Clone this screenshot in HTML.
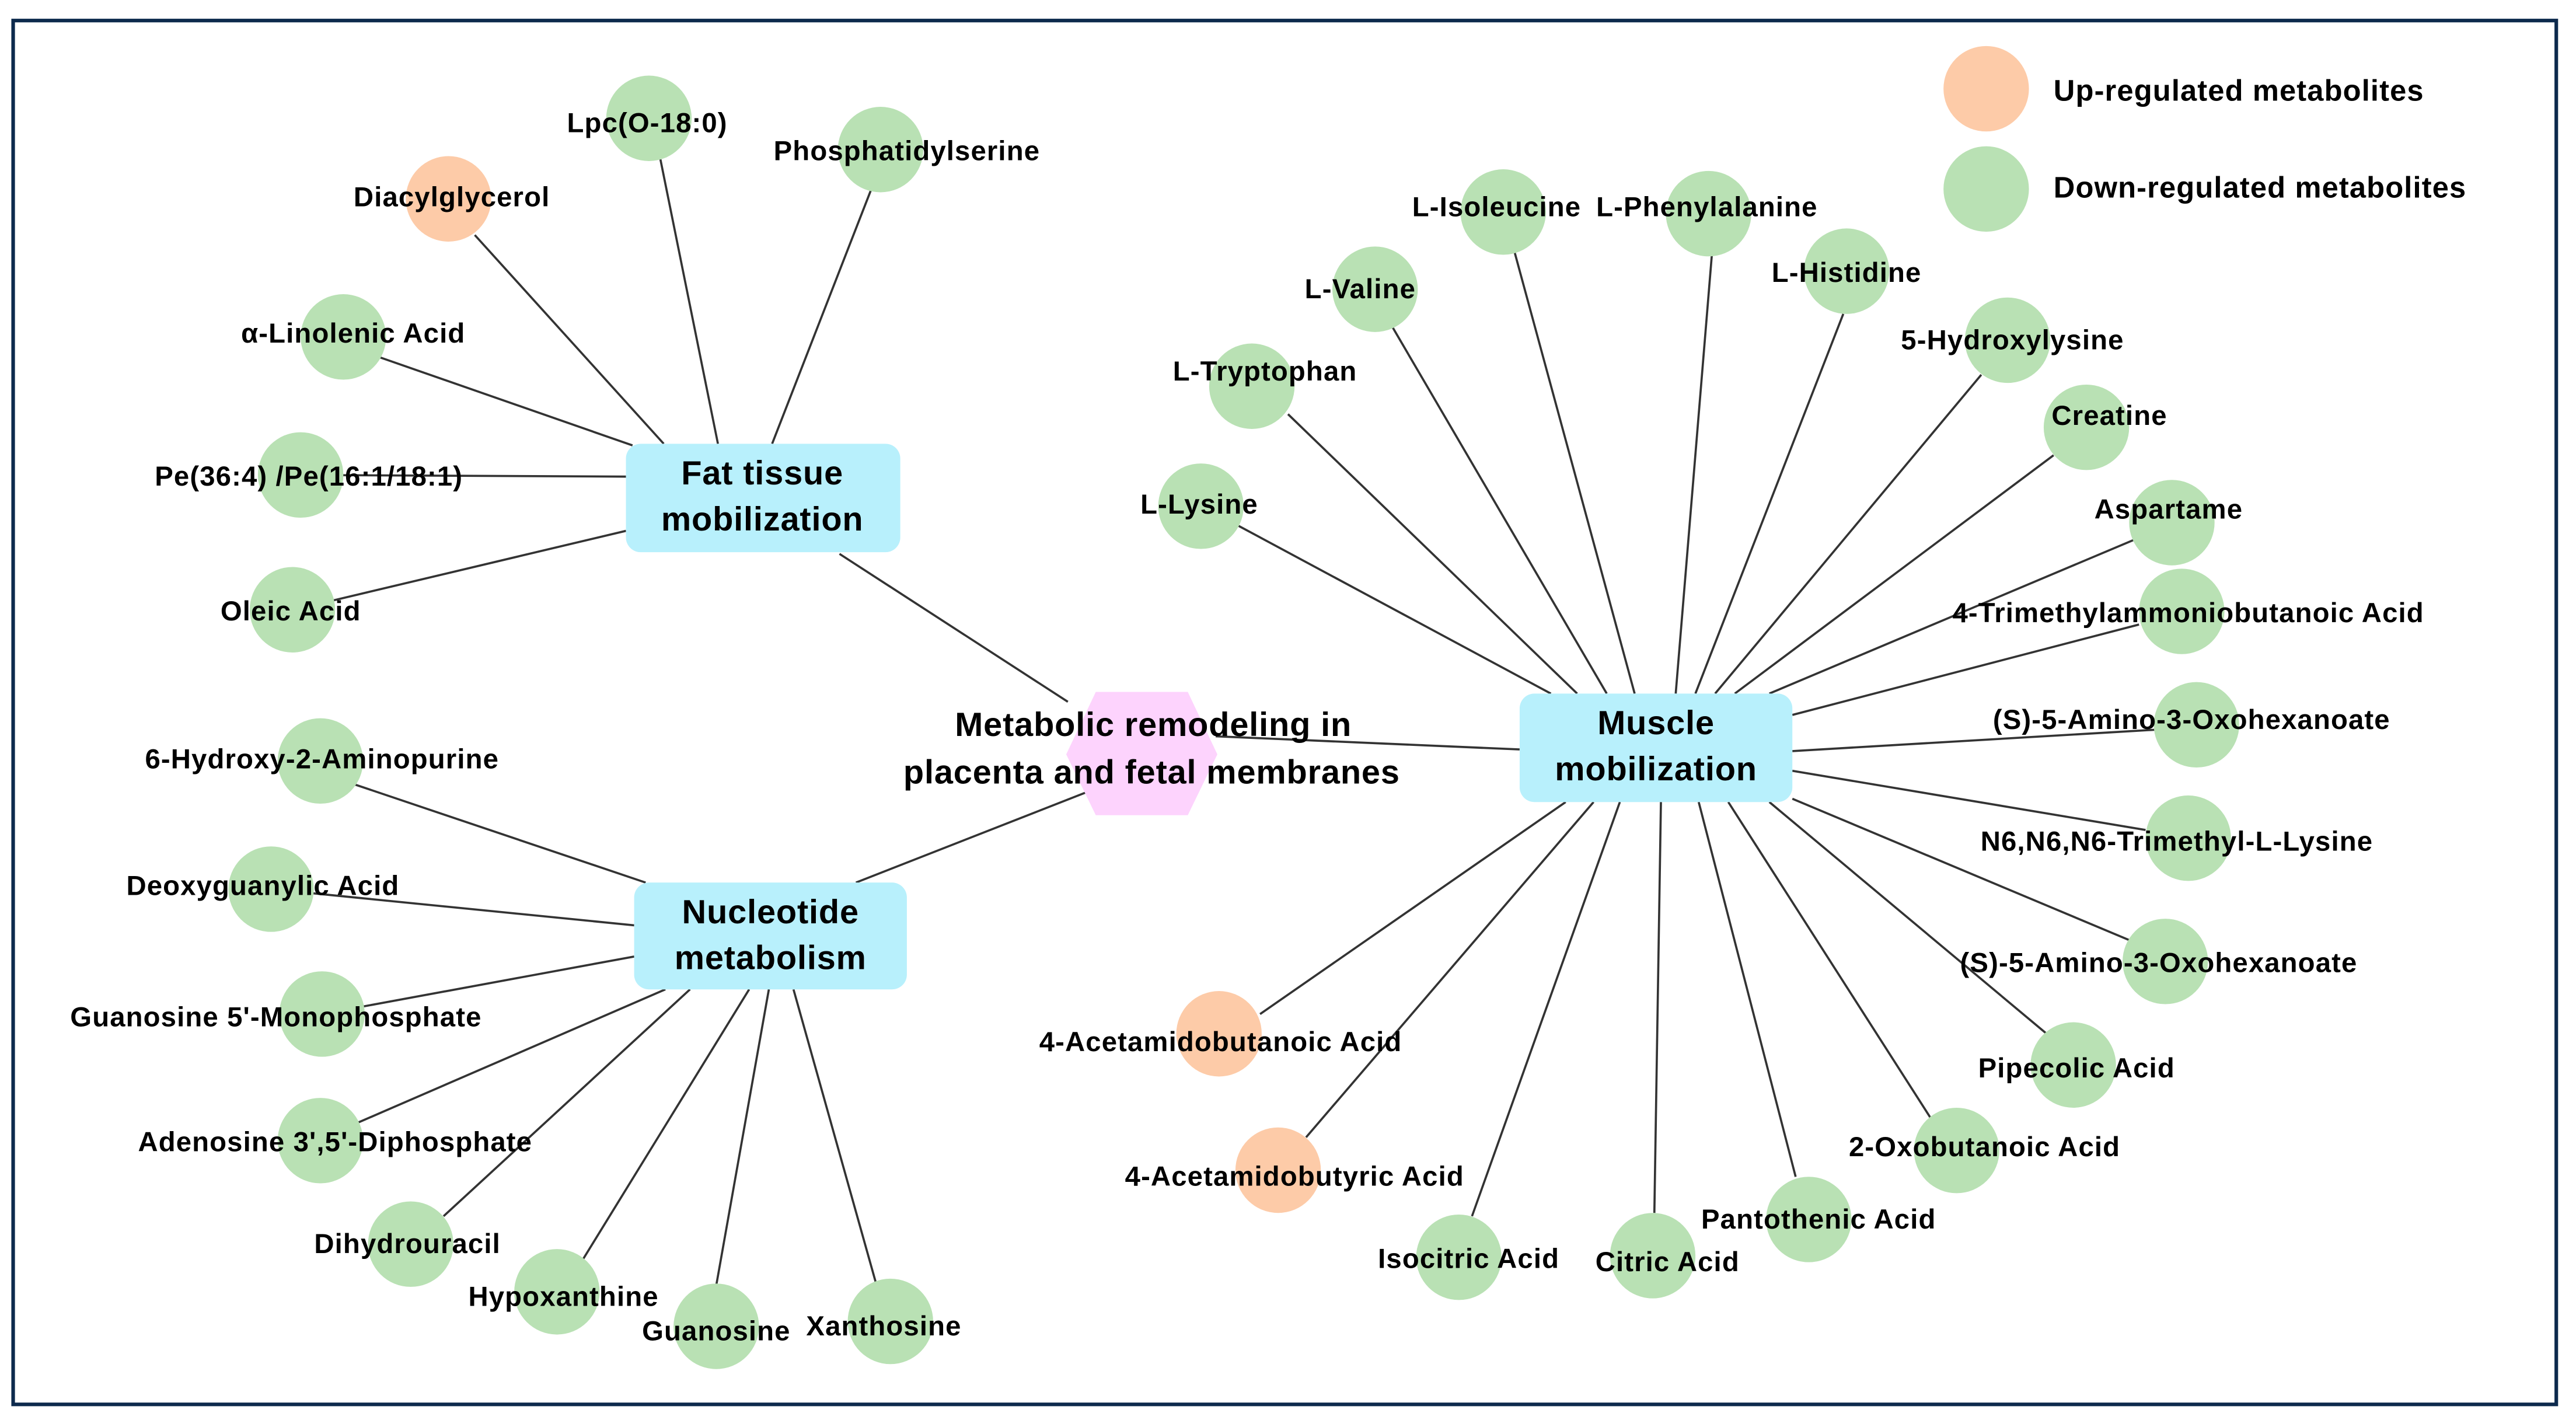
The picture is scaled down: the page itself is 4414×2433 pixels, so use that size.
<!DOCTYPE html>
<html><head><meta charset="utf-8"><style>
html,body{margin:0;padding:0;background:#fff;}
svg{display:block;}
text{font-family:"Liberation Sans",sans-serif;fill:#000;}
.l{font-size:16.8px;font-weight:bold;letter-spacing:0.4px;text-anchor:middle;dominant-baseline:central;}
.b{font-size:20.5px;font-weight:bold;letter-spacing:0.3px;text-anchor:middle;dominant-baseline:central;}
</style></head><body>
<svg width="4414" height="2433" viewBox="0 0 1568 864" preserveAspectRatio="none" xmlns="http://www.w3.org/2000/svg">
<rect x="0" y="0" width="1568" height="864" fill="#fff"/>
<rect x="8" y="12.5" width="1548" height="842" fill="none" stroke="#0d2a4d" stroke-width="2.2"/>
<g stroke="#333" stroke-width="1.3" fill="none">
<line x1="650" y1="427" x2="511" y2="337"/>
<line x1="521" y1="537" x2="664" y2="481"/>
<line x1="740" y1="448" x2="925" y2="456"/>
<line x1="402" y1="97" x2="437" y2="270"/>
<line x1="530" y1="116" x2="470" y2="270"/>
<line x1="289" y1="143" x2="404" y2="270"/>
<line x1="230" y1="217" x2="385" y2="271"/>
<line x1="183" y1="289" x2="381" y2="290"/>
<line x1="200" y1="366" x2="381" y2="323"/>
<line x1="215" y1="477" x2="393" y2="537"/>
<line x1="165" y1="541" x2="386" y2="563"/>
<line x1="196" y1="617" x2="386" y2="582"/>
<line x1="218" y1="683" x2="405" y2="602"/>
<line x1="270" y1="740" x2="420" y2="602"/>
<line x1="355" y1="766" x2="456" y2="602"/>
<line x1="436" y1="782" x2="468" y2="602"/>
<line x1="533" y1="780" x2="483" y2="602"/>
<line x1="921" y1="150" x2="995" y2="422"/>
<line x1="1042" y1="155" x2="1020" y2="422"/>
<line x1="847" y1="198" x2="978" y2="422"/>
<line x1="1122" y1="191" x2="1032" y2="422"/>
<line x1="784" y1="252" x2="960" y2="422"/>
<line x1="1206" y1="228" x2="1044" y2="422"/>
<line x1="1250" y1="277" x2="1056" y2="422"/>
<line x1="754" y1="320" x2="944" y2="422"/>
<line x1="1300" y1="328" x2="1077" y2="422"/>
<line x1="1302" y1="380" x2="1091" y2="435"/>
<line x1="1312" y1="444" x2="1091" y2="457"/>
<line x1="1306" y1="505" x2="1091" y2="469"/>
<line x1="1296" y1="572" x2="1091" y2="486"/>
<line x1="1247" y1="630" x2="1077" y2="488"/>
<line x1="1175" y1="680" x2="1052" y2="488"/>
<line x1="1093" y1="716" x2="1034" y2="488"/>
<line x1="1007" y1="738" x2="1011" y2="488"/>
<line x1="896" y1="740" x2="986" y2="488"/>
<line x1="795" y1="692" x2="970" y2="488"/>
<line x1="767" y1="617" x2="953" y2="488"/>
</g>
<g fill="#b9e1b4">
<circle cx="395" cy="72" r="26"/><circle cx="536" cy="91" r="26"/>
<circle cx="209" cy="205" r="26"/><circle cx="183" cy="289" r="26"/><circle cx="178" cy="371" r="26"/>
<circle cx="195" cy="463" r="26"/><circle cx="165" cy="541" r="26"/><circle cx="196" cy="617" r="26"/>
<circle cx="195" cy="694" r="26"/><circle cx="250" cy="757" r="26"/><circle cx="339" cy="786" r="26"/>
<circle cx="436" cy="807" r="26"/><circle cx="542" cy="804" r="26"/>
<circle cx="915" cy="129" r="26"/><circle cx="1040" cy="130" r="26"/><circle cx="837" cy="176" r="26"/>
<circle cx="1124" cy="165" r="26"/><circle cx="762" cy="235" r="26"/><circle cx="1222" cy="207" r="26"/>
<circle cx="1270" cy="260" r="26"/><circle cx="731" cy="308" r="26"/><circle cx="1322" cy="318" r="26"/>
<circle cx="1328" cy="372" r="26"/><circle cx="1337" cy="441" r="26"/><circle cx="1332" cy="510" r="26"/>
<circle cx="1318" cy="585" r="26"/><circle cx="1262" cy="648" r="26"/><circle cx="1191" cy="700" r="26"/>
<circle cx="1101" cy="742" r="26"/><circle cx="1006" cy="764" r="26"/><circle cx="888" cy="765" r="26"/>
<circle cx="1209" cy="115" r="26"/>
</g>
<g fill="#fdcba8">
<circle cx="273" cy="121" r="26"/><circle cx="778" cy="712" r="26"/><circle cx="742" cy="629" r="26"/>
<circle cx="1209" cy="54" r="26"/>
</g>
<polygon points="667,421 723,421 741,459 723,496 667,496 649,459" fill="#fdd3fd"/>
<rect x="381" y="270" width="167" height="66" rx="9" fill="#b8f0fc"/>
<rect x="386" y="537" width="166" height="65" rx="9" fill="#b8f0fc"/>
<rect x="925" y="422" width="166" height="66" rx="9" fill="#b8f0fc"/>
<text class="b" x="464" y="288">Fat tissue</text><text class="b" x="464" y="316">mobilization</text>
<text class="b" x="469" y="555">Nucleotide</text><text class="b" x="469" y="583">metabolism</text>
<text class="b" x="1008" y="440">Muscle</text><text class="b" x="1008" y="468">mobilization</text>
<text class="b" x="702" y="441">Metabolic remodeling in</text>
<text class="b" x="701" y="470">placenta and  fetal membranes</text>
<text class="l" x="394" y="75">Lpc(O-18:0)</text>
<text class="l" x="552" y="92">Phosphatidylserine</text>
<text class="l" x="275" y="120">Diacylglycerol</text>
<text class="l" x="215" y="203">α-Linolenic Acid</text>
<text class="l" x="188" y="290">Pe(36:4) /Pe(16:1/18:1)</text>
<text class="l" x="177" y="372">Oleic Acid</text>
<text class="l" x="196" y="462">6-Hydroxy-2-Aminopurine</text>
<text class="l" x="160" y="539">Deoxyguanylic Acid</text>
<text class="l" x="168" y="619">Guanosine 5'-Monophosphate</text>
<text class="l" x="204" y="695">Adenosine 3',5'-Diphosphate</text>
<text class="l" x="248" y="757">Dihydrouracil</text>
<text class="l" x="343" y="789">Hypoxanthine</text>
<text class="l" x="436" y="810">Guanosine</text>
<text class="l" x="538" y="807">Xanthosine</text>
<text class="l" x="911" y="126">L-Isoleucine</text>
<text class="l" x="1039" y="126">L-Phenylalanine</text>
<text class="l" x="828" y="176">L-Valine</text>
<text class="l" x="1124" y="166">L-Histidine</text>
<text class="l" x="770" y="226">L-Tryptophan</text>
<text class="l" x="1225" y="207">5-Hydroxylysine</text>
<text class="l" x="1284" y="253">Creatine</text>
<text class="l" x="730" y="307">L-Lysine</text>
<text class="l" x="1320" y="310">Aspartame</text>
<text class="l" x="1332" y="373">4-Trimethylammoniobutanoic Acid</text>
<text class="l" x="1334" y="438">(S)-5-Amino-3-Oxohexanoate</text>
<text class="l" x="1325" y="512">N6,N6,N6-Trimethyl-L-Lysine</text>
<text class="l" x="1314" y="586">(S)-5-Amino-3-Oxohexanoate</text>
<text class="l" x="1264" y="650">Pipecolic Acid</text>
<text class="l" x="1208" y="698">2-Oxobutanoic Acid</text>
<text class="l" x="1107" y="742">Pantothenic Acid</text>
<text class="l" x="1015" y="768">Citric Acid</text>
<text class="l" x="894" y="766">Isocitric Acid</text>
<text class="l" x="788" y="716">4-Acetamidobutyric Acid</text>
<text class="l" x="743" y="634">4-Acetamidobutanoic Acid</text>
<text x="1250" y="55" style="font-size:18px;font-weight:bold;letter-spacing:0.4px;dominant-baseline:central;">Up-regulated metabolites</text>
<text x="1250" y="114" style="font-size:18px;font-weight:bold;letter-spacing:0.4px;dominant-baseline:central;">Down-regulated metabolites</text>
</svg>
</body></html>
